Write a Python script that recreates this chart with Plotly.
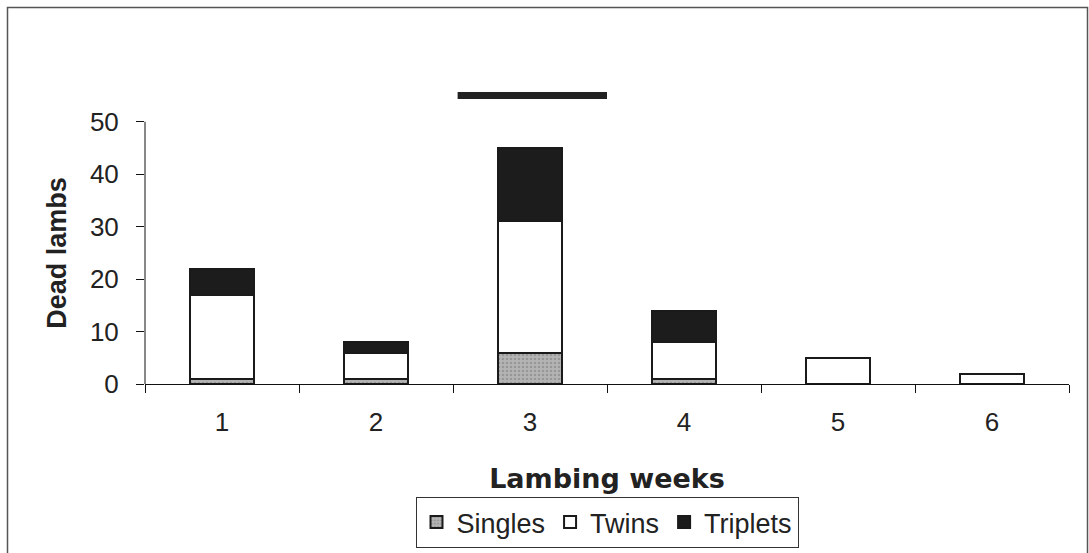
import plotly.graph_objects as go

# Dead lambs per lambing week, split by litter size
weeks = ["1", "2", "3", "4", "5", "6"]
singles = [1, 1, 6, 1, 0, 0]
twins = [16, 5, 25, 7, 5, 2]
triplets = [5, 2, 14, 6, 0, 0]

y_ticks = [0, 10, 20, 30, 40, 50]

# Peak-period bar drawn above week 3 (category index span, height in lambs)
peak_span = [1.53, 2.5]
peak_level = 55

W, H = 1089, 553
ML, MR, MT, MB = 145, 20, 85, 169
PW, PH = W - ML - MR, H - MT - MB

BASE = "Liberation Sans"
OUTLINE = "#1a1a1a"

fig = go.Figure()
series = [
    ("Singles", singles, "#ababab",
     dict(shape=".", fgcolor="#7a7a7a", bgcolor="#b4b4b4", size=4, solidity=0.35)),
    ("Twins", twins, "#ffffff", None),
    ("Triplets", triplets, "#1c1c1c", None),
]
for name, vals, col, pattern in series:
    marker = dict(color=col, line=dict(color=OUTLINE, width=2))
    if pattern:
        marker["pattern"] = pattern
    fig.add_trace(go.Bar(x=weeks, y=vals, name=name, width=0.42, marker=marker))


def px_to_paper_x(px):
    return (px - ML) / PW


def px_to_paper_y(py):
    return (H - MB - py) / PH


shapes = [
    # y axis line from 0 to the top tick
    dict(type="line", xref="x domain", yref="y", x0=0, x1=0,
         y0=0, y1=y_ticks[-1], line=dict(color="#111", width=1)),
    # peak-period bar
    dict(type="line", xref="x", yref="y", x0=peak_span[0], x1=peak_span[1],
         y0=peak_level, y1=peak_level, line=dict(color="#222", width=7)),
    # chart-area frame
    dict(type="rect", xref="paper", yref="paper",
         x0=px_to_paper_x(7.5), x1=px_to_paper_x(1087.5),
         y0=px_to_paper_y(600), y1=px_to_paper_y(7.5),
         line=dict(color="#555", width=1.5), fillcolor="rgba(0,0,0,0)",
         layer="below"),
]

fig.update_layout(
    width=W, height=H,
    margin=dict(l=ML, r=MR, t=MT, b=MB, autoexpand=False),
    barmode="stack",
    paper_bgcolor="white", plot_bgcolor="white",
    font=dict(family=BASE, size=26, color="#222"),
    showlegend=True,
    legend=dict(
        orientation="h", x=0.5, xanchor="center",
        y=px_to_paper_y(497), yanchor="top",
        bordercolor="#333", borderwidth=1,
        font=dict(family=BASE, size=27, color="#222"),
        traceorder="normal", itemclick=False,
    ),
    xaxis=dict(
        type="category", tickson="boundaries", automargin=False,
        showline=True, linecolor="#111", linewidth=1,
        ticks="outside", ticklen=8, tickcolor="#111",
        showgrid=False, zeroline=False,
        tickfont=dict(family=BASE, size=26, color="#222"),
        ticklabelstandoff=15,
        title=dict(text="Lambing weeks", standoff=32,
                   font=dict(family="DejaVu Sans", size=27, color="#222",
                             weight="bold")),
    ),
    yaxis=dict(
        range=[0, 57], tickvals=y_ticks, automargin=False,
        showline=False, showgrid=False, zeroline=False,
        ticks="outside", ticklen=8, tickcolor="#111",
        tickfont=dict(family=BASE, size=26, color="#222"),
        ticklabelstandoff=12,
    ),
    shapes=shapes,
    annotations=[
        dict(text="<b>Dead lambs</b>", xref="paper", yref="y",
             x=px_to_paper_x(57), y=y_ticks[-1] / 2, textangle=-90,
             showarrow=False, xanchor="center", yanchor="middle",
             font=dict(family=BASE, size=27, color="#222")),
    ],
)

fig.write_html("out.html")
